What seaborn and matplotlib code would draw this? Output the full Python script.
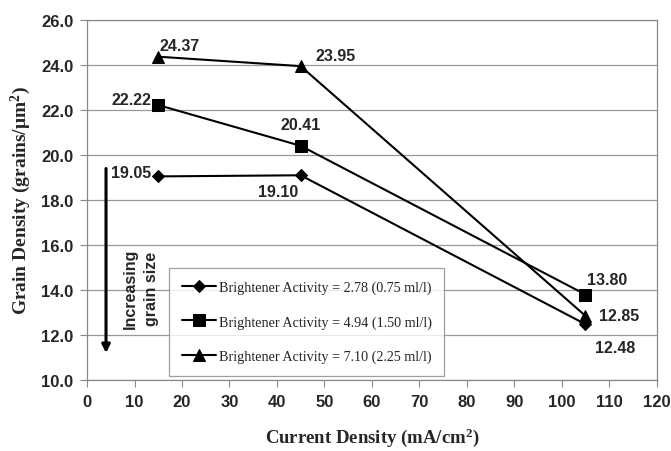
import pandas as pd
import matplotlib
matplotlib.use("Agg")
import matplotlib.pyplot as plt
import seaborn as sns
from matplotlib.ticker import FormatStrFormatter

# data
current_density = [15, 45, 105]
series_names = [
    "Brightener Activity = 2.78 (0.75 ml/l)",
    "Brightener Activity = 4.94 (1.50 ml/l)",
    "Brightener Activity = 7.10 (2.25 ml/l)",
]
grain_278 = [19.05, 19.10, 12.48]
grain_494 = [22.22, 20.41, 13.80]
grain_710 = [24.37, 23.95, 12.85]

markers = ["D", "s", "^"]
marker_sizes = [6, 8, 9]
# label offsets (points) for each value, per series
label_offsets = [
    [(-5, 3, "right"), (-2, -12, "right"), (7, -17, "left")],
    [(-5, 4, "right"), (0, 15, "center"), (1, 11, "left")],
    [(1, 8, "left"), (11, 8, "left"), (10, 0, "left")],
]

sns.set_style("white")
plt.rcParams["font.family"] = ["Liberation Sans", "DejaVu Sans"]
plt.rcParams["mathtext.fontset"] = "custom"
plt.rcParams["mathtext.rm"] = "Liberation Serif:bold"
plt.rcParams["mathtext.it"] = "Liberation Serif:bold"
plt.rcParams["mathtext.bf"] = "Liberation Serif:bold"

rows = []
for name, vals in zip(series_names, [grain_278, grain_494, grain_710]):
    for x, y in zip(current_density, vals):
        rows.append({"Series": name, "Current": x, "Grain": y})
df = pd.DataFrame(rows)

fig = plt.figure(figsize=(6.71, 4.52), dpi=100)
ax = fig.add_axes([0.1297, 0.157, 0.849, 0.7965])

for i, name in enumerate(series_names):
    sub = df[df["Series"] == name]
    sns.lineplot(data=sub, x="Current", y="Grain", ax=ax, color="black",
                 marker=markers[i], markersize=marker_sizes[i], linewidth=1.5,
                 markeredgecolor="black", label=name)
    for (x, y), (dx, dy, ha) in zip(zip(sub["Current"], sub["Grain"]), label_offsets[i]):
        ax.annotate(f"{y:.2f}", (x, y), xytext=(dx, dy), textcoords="offset points",
                    ha=ha, va="center", fontsize=11.5, fontweight="bold")

ax.set_xlim(0, 120)
ax.set_ylim(10, 26)
ax.set_xticks(range(0, 121, 10))
ax.set_yticks([10, 12, 14, 16, 18, 20, 22, 24, 26])
ax.yaxis.set_major_formatter(FormatStrFormatter("%.1f"))
for lab in ax.get_xticklabels() + ax.get_yticklabels():
    lab.set_fontweight("bold")
    lab.set_fontsize(12)
ax.tick_params(axis="both", direction="out", length=5, width=0.8, color="#888888",
               left=True, bottom=True, pad=5)
ax.yaxis.grid(True, color="#999999", linewidth=0.9)
for sp in ax.spines.values():
    sp.set_color("#888888")
    sp.set_linewidth(0.9)

ax.set_xlabel("Current Density (mA/cm$^2$)", family="Liberation Serif",
              fontweight="bold", fontsize=13.5, labelpad=12)
ax.set_ylabel("Grain Density (grains/$\\mu$m$^2$)", family="Liberation Serif",
              fontweight="bold", fontsize=14, labelpad=6)

# arrow + note
ax.annotate("", xy=(4, 11.2), xytext=(4, 19.4),
            arrowprops=dict(arrowstyle="-|>", color="black", lw=2.2,
                            mutation_scale=12, shrinkA=0, shrinkB=0))
ax.text(11.4, 14.1, "Increasing\ngrain size", rotation=90, ha="center", va="center",
        fontsize=11.5, fontweight="bold", linespacing=1.5)

leg = ax.legend(loc="lower left", bbox_to_anchor=(0.144, 0.011), borderaxespad=0,
                frameon=True, fancybox=False, edgecolor="#888888",
                prop={"family": "Liberation Serif", "size": 10.2},
                labelspacing=1.5, handlelength=2.4, handletextpad=0.2,
                borderpad=0.9)
leg.get_frame().set_linewidth(0.9)

fig.savefig("out.png", dpi=100)
